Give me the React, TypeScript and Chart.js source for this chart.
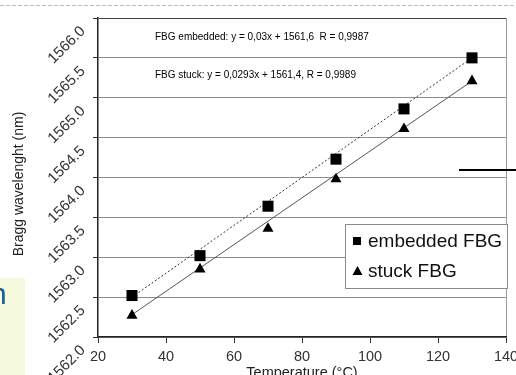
import React, { useEffect, useRef } from 'react';
import { Chart, registerables } from 'chart.js';

Chart.register(...registerables);

// ---- data ----
const temperatures = [30, 50, 70, 90, 110, 130];
const embeddedFBG = [1562.52, 1563.02, 1563.64, 1564.23, 1564.86, 1565.5];
const stuckFBG = [1562.27, 1562.85, 1563.36, 1563.98, 1564.61, 1565.21];
const fitTemperatures = [30, 130];
const embeddedFit = [1562.5, 1565.5];
const stuckFit = [1562.28, 1565.21];
const seriesLabels = ['embedded FBG', 'stuck FBG'];
const equationLabels = [
  'FBG embedded: y = 0,03x + 1561,6  R = 0,9987',
  'FBG stuck: y = 0,0293x + 1561,4, R = 0,9989',
];
const xTitle = 'Temperature (°C)';
const yTitle = 'Bragg wavelenght (nm)';
const xRange = [20, 140];
const xStep = 20;
const yRange = [1562, 1566];
const yStep = 0.5;

const FONT = '"Liberation Sans", Arial, sans-serif';

const decorPlugin = {
  id: 'decor',
  afterDraw(chart: any) {
    const ctx = chart.ctx as CanvasRenderingContext2D;
    ctx.save();
    // slide decorations
    ctx.fillStyle = '#f5fade';
    ctx.fillRect(0, 278, 25, 110);
    ctx.fillStyle = '#1c5b96';
    ctx.font = `30px ${FONT}`;
    ctx.textAlign = 'left';
    ctx.textBaseline = 'middle';
    ctx.fillText('n', -10, 296);

    ctx.strokeStyle = '#bdbdbd';
    ctx.lineWidth = 1;
    ctx.setLineDash([4, 2]);
    ctx.beginPath();
    ctx.moveTo(0, 5.5);
    ctx.lineTo(516, 5.5);
    ctx.stroke();
    ctx.setLineDash([]);

    // y axis title
    ctx.save();
    ctx.translate(19, 184);
    ctx.rotate(-Math.PI / 2);
    ctx.fillStyle = '#222';
    ctx.font = `14px ${FONT}`;
    ctx.textAlign = 'center';
    ctx.textBaseline = 'middle';
    ctx.fillText(yTitle, 0, 0);
    ctx.restore();

    // equations
    ctx.fillStyle = '#000';
    ctx.font = `10px ${FONT}`;
    ctx.textAlign = 'left';
    ctx.textBaseline = 'middle';
    ctx.fillText(equationLabels[0], 155, 37);
    ctx.fillText(equationLabels[1], 155, 75);

    // legend
    ctx.fillStyle = '#ffffff';
    ctx.fillRect(345.5, 224.5, 162, 64);
    ctx.strokeStyle = '#8a8a8a';
    ctx.lineWidth = 1;
    ctx.strokeRect(345.5, 224.5, 162, 64);
    ctx.fillStyle = '#000';
    ctx.fillRect(353, 237, 8, 8);
    ctx.beginPath();
    ctx.moveTo(357.5, 266);
    ctx.lineTo(362.5, 275);
    ctx.lineTo(352.5, 275);
    ctx.closePath();
    ctx.fill();
    ctx.fillStyle = '#111';
    ctx.font = `19px ${FONT}`;
    const ds = chart.data.datasets;
    ctx.fillText(ds[0].label, 368, 242);
    ctx.fillText(ds[1].label, 368, 272);

    // black line on the right
    ctx.strokeStyle = '#000';
    ctx.lineWidth = 2;
    ctx.beginPath();
    ctx.moveTo(459, 170);
    ctx.lineTo(516, 170);
    ctx.stroke();
    ctx.restore();
  },
};

export default function App() {
  const ref = useRef<HTMLCanvasElement | null>(null);

  useEffect(() => {
    if (!ref.current) return;
    const toPts = (xs: number[], ys: number[]) => xs.map((x, i) => ({ x, y: ys[i] }));
    const chart = new Chart(ref.current, {
      type: 'scatter',
      data: {
        datasets: [
          {
            label: seriesLabels[0],
            data: toPts(temperatures, embeddedFBG),
            pointStyle: 'rect',
            pointRadius: 7.8,
            pointHoverRadius: 7.8,
            backgroundColor: '#000',
            borderColor: '#000',
            borderWidth: 0,
          },
          {
            label: seriesLabels[1],
            data: toPts(temperatures, stuckFBG),
            pointStyle: 'triangle',
            pointRadius: 6.4,
            pointHoverRadius: 6.4,
            backgroundColor: '#000',
            borderColor: '#000',
            borderWidth: 0,
          },
          {
            label: 'fit embedded',
            data: toPts(fitTemperatures, embeddedFit),
            showLine: true,
            pointRadius: 0,
            borderColor: '#333',
            borderWidth: 1,
            borderDash: [2, 2],
          },
          {
            label: 'fit stuck',
            data: toPts(fitTemperatures, stuckFit),
            showLine: true,
            pointRadius: 0,
            borderColor: '#555',
            borderWidth: 1,
          },
        ],
      },
      options: {
        animation: false,
        responsive: false,
        devicePixelRatio: 1,
        layout: { padding: { left: 0, top: 18, right: 10, bottom: 0 } },
        plugins: { legend: { display: false }, tooltip: { enabled: false } },
        scales: {
          x: {
            type: 'linear',
            min: xRange[0],
            max: xRange[1],
            ticks: {
              stepSize: xStep,
              color: '#333',
              font: { family: FONT, size: 14.5 },
              padding: 5,
              maxRotation: 0,
              autoSkip: false,
            },
            grid: {
              drawOnChartArea: true,
              color: (c: any) => (c.tick && c.tick.value === xRange[1] ? '#9a9a9a' : 'rgba(0,0,0,0)'),
              tickColor: '#333',
              tickLength: 6,
            },
            border: { color: '#222', width: 1.5 },
            title: {
              display: true,
              text: xTitle,
              color: '#222',
              font: { family: FONT, size: 14.5 },
              padding: { top: 0, bottom: 8 },
            },
            afterFit: (s: any) => {
              s.height = 53;
              s.paddingLeft = 0;
              s.paddingRight = 0;
            },
          },
          y: {
            type: 'linear',
            min: yRange[0],
            max: yRange[1],
            ticks: {
              stepSize: yStep,
              color: '#333',
              font: { family: FONT, size: 15 },
              minRotation: 45,
              maxRotation: 45,
              padding: 10,
              labelOffset: 11,
              callback: (v: any) => Number(v).toFixed(1),
            },
            grid: {
              color: (c: any) => (c.tick && c.tick.value === yRange[1] ? '#444' : '#8c8c8c'),
              tickColor: '#333',
              tickLength: 5,
              lineWidth: 1,
            },
            border: { color: '#222', width: 1.5 },
            afterFit: (s: any) => {
              s.width = 98;
              s.paddingTop = 0;
              s.paddingBottom = 0;
            },
          },
        },
      },
      plugins: [decorPlugin],
    });
    return () => chart.destroy();
  }, []);

  return (
    <div
      style={{
        position: 'fixed',
        left: 0,
        top: 0,
        width: 516,
        height: 375,
        overflow: 'hidden',
        background: '#fff',
      }}
    >
      <canvas ref={ref} width={516} height={390} style={{ display: 'block', width: 516, height: 390 }} />
    </div>
  );
}
